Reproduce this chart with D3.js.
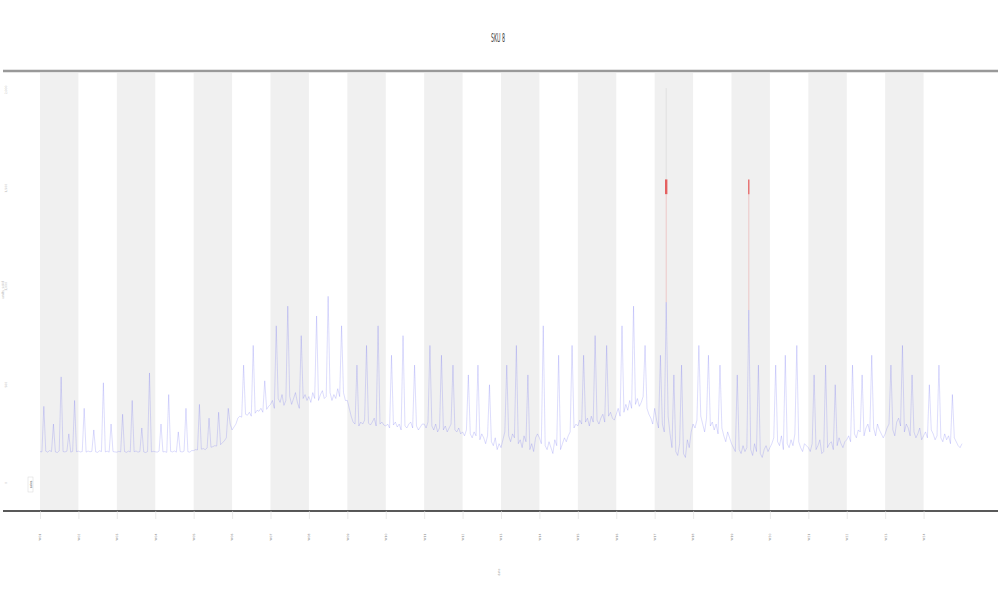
<!DOCTYPE html>
<html><head><meta charset="utf-8">
<script src="https://cdn.jsdelivr.net/npm/d3@7"></script>
<style>body{margin:0;background:#fff}svg{display:block}</style>
</head><body><svg id="c" width="1000" height="600"></svg>
<script>
// ---- data ----
const title = "SKU 8";
const xLabel = "date";
const yLabel = "units_sold";
const tickLabels = ["W01","W02","W03","W04","W05","W06","W07","W08","W09","W10","W11","W12",
  "W13","W14","W15","W16","W17","W18","W19","W20","W21","W22","W23","W24"];
const yTicks = [0, 500, 1000, 1500, 2000];
const sales = [
 160,158,390,162,157,165,160,300,158,155,163,540,160,158,162,250,157,161,420,159,
 162,158,160,380,157,163,159,161,270,158,156,164,160,510,158,162,157,300,160,158,
 157,161,158,350,160,156,162,158,420,159,163,157,160,280,158,155,160,560,158,161,
 159,157,162,300,158,160,156,450,161,158,163,157,260,160,158,162,380,159,157,165,
 165,170,168,400,172,175,170,178,330,182,185,190,188,360,195,205,215,230,380,300,
 270,285,300,330,340,335,600,350,345,360,340,700,355,370,365,380,360,520,375,390,
 400,420,380,800,430,410,450,395,420,900,440,400,430,460,410,380,750,430,450,420,
 440,410,460,430,850,420,450,470,430,440,950,460,420,450,430,480,440,800,460,420,
 420,380,340,310,300,600,290,310,300,320,700,305,295,310,330,290,800,300,310,295,
 290,300,280,650,295,310,285,300,270,750,290,280,300,310,280,600,290,270,285,300,
 300,280,310,700,290,270,300,260,280,650,270,290,260,280,300,600,270,260,280,250,
 260,240,270,550,250,230,260,240,600,220,250,230,200,240,500,210,190,230,170,200,
 180,220,260,600,240,210,250,230,700,200,220,180,240,210,550,170,200,160,230,250,
 230,200,800,190,170,210,180,150,220,190,650,170,200,230,210,240,260,700,280,300,
 290,320,300,650,310,330,290,340,310,750,320,300,330,350,310,700,340,360,330,320,
 350,380,340,800,360,400,370,420,380,900,400,430,390,410,440,700,380,350,330,300,
 380,320,280,650,300,260,920,340,250,180,550,160,140,200,600,150,130,220,180,260,
 300,280,320,700,340,300,260,330,650,290,310,270,300,250,600,280,240,210,260,230,
 200,180,160,550,170,150,190,160,180,880,170,140,200,160,600,150,130,170,190,160,
 180,200,230,600,210,190,240,170,650,200,180,220,190,250,700,210,180,160,200,190,
 180,160,200,550,170,190,220,150,160,600,180,200,210,170,500,190,230,200,180,210,
 220,240,210,600,250,230,270,260,550,240,280,300,260,650,280,240,300,270,250,230,
 250,280,300,600,270,240,310,330,290,700,260,300,280,240,550,260,230,250,280,220,
 240,260,230,500,270,250,220,240,600,230,210,250,220,240,200,450,230,210,190,180,
 200
];
// flagged anomalies: index, low value, high value, emphasis
const anomalyIdx = [326, 326, 369, 369];
const anomalyLo  = [920, 1470, 880, 1470];
const anomalyHi  = [1470, 1545, 1470, 1545];
const anomalyStrong = [0, 1, 0, 1];
const peakIdx = [326];
const peakVal = [2010];

// ---- layout ----
const svg = d3.select("#c");
const plotL = 3, plotR = 998, plotT = 71, plotB = 511;
const x = d3.scaleLinear().domain([0, sales.length - 1]).range([40, 962]);
const y = d3.scaleLinear().domain([0, 2000]).range([483, 90]);
const per = 20;
const tickIdx = tickLabels.map((d, i) => i * per);

// alternating bands
const bands = tickIdx.filter((d, i) => i % 2 === 0);
svg.append("g").selectAll("rect").data(bands).join("rect")
  .attr("x", d => x(d)).attr("width", d => x(d + per) - x(d))
  .attr("y", 73).attr("height", plotB - 73).attr("fill", "#f0f0f0");

// top and bottom rules
svg.append("line").attr("x1", plotL).attr("x2", plotR).attr("y1", plotT).attr("y2", plotT)
  .attr("stroke", "#999").attr("stroke-width", 2.5);
svg.append("line").attr("x1", plotL).attr("x2", plotR).attr("y1", plotB).attr("y2", plotB)
  .attr("stroke", "#222").attr("stroke-width", 1.4);

// x axis ticks + labels
const xa = svg.append("g").attr("transform", `translate(0,${plotB})`)
  .call(d3.axisBottom(x).tickValues(tickIdx).tickFormat((d, i) => tickLabels[i]).tickSize(8));
xa.select(".domain").remove();
xa.selectAll(".tick line").attr("stroke", "#ddd").attr("stroke-width", 0.6);
xa.selectAll(".tick text").attr("font-size", 3).attr("fill", "#888")
  .attr("font-family", "DejaVu Sans")
  .attr("transform", "translate(0,26) rotate(-90)").attr("text-anchor", "middle").attr("dy", "0.3em").attr("y", 0);

// y axis labels
const ya = svg.append("g").attr("transform", "translate(6,0)")
  .call(d3.axisLeft(y).tickValues(yTicks).tickSize(0));
ya.select(".domain").remove();
ya.selectAll(".tick").attr("transform", null);
ya.selectAll(".tick text").attr("font-size", 3).attr("fill", "#bbb").attr("font-family", "DejaVu Sans")
  .attr("text-anchor", "middle").attr("dy", "0.3em")
  .attr("x", 0).attr("y", d => y(d))
  .attr("transform", d => `rotate(-90,0,${y(d)})`);

svg.append("text").attr("transform", "translate(4,290) rotate(-90)").attr("text-anchor", "middle")
  .attr("font-size", 3.5).attr("fill", "#bbb").attr("font-family", "DejaVu Sans").text(yLabel);

// main series
svg.append("path").datum(sales)
  .attr("d", d3.line().x((d, i) => x(i)).y(d => y(d)))
  .attr("fill", "none").attr("stroke", "#3a3af0").attr("stroke-width", 0.5).attr("stroke-opacity", 0.35);

// peak above the flagged band
svg.append("g").selectAll("line").data(peakIdx).join("line")
  .attr("x1", d => x(d)).attr("x2", d => x(d))
  .attr("y1", y(1545)).attr("y2", (d, i) => y(peakVal[i]))
  .attr("stroke", "#bbb").attr("stroke-width", 0.6).attr("stroke-opacity", 0.5);

// anomalies
svg.append("g").selectAll("line").data(anomalyIdx).join("line")
  .attr("x1", d => x(d)).attr("x2", d => x(d))
  .attr("y1", (d, i) => y(anomalyLo[i])).attr("y2", (d, i) => y(anomalyHi[i]))
  .attr("stroke", "#e03030")
  .attr("stroke-width", (d, i) => anomalyStrong[i] ? (d === 326 ? 2.4 : 1.3) : 0.7)
  .attr("stroke-opacity", (d, i) => anomalyStrong[i] ? 0.75 : 0.3);

// legend stub
svg.append("rect").attr("x", 28).attr("y", 477).attr("width", 5).attr("height", 15)
  .attr("fill", "#fff").attr("stroke", "#ccc").attr("stroke-width", 0.4);
svg.append("text").attr("transform", "translate(31.5,484.5) rotate(-90)").attr("text-anchor", "middle")
  .attr("font-size", 3).attr("fill", "#444").attr("font-family", "DejaVu Sans").text("sales");

// title and x label
svg.append("text").attr("x", 498).attr("y", 42).attr("text-anchor", "middle")
  .attr("font-size", 12).attr("fill", "#444").attr("font-family", "Liberation Sans Narrow, DejaVu Sans Condensed, sans-serif")
  .attr("textLength", 14).attr("lengthAdjust", "spacingAndGlyphs").text(title);
svg.append("text").attr("transform", "translate(500,572) rotate(-90)").attr("text-anchor", "middle")
  .attr("font-size", 3).attr("fill", "#999").attr("font-family", "DejaVu Sans").text(xLabel);
</script></body></html>
